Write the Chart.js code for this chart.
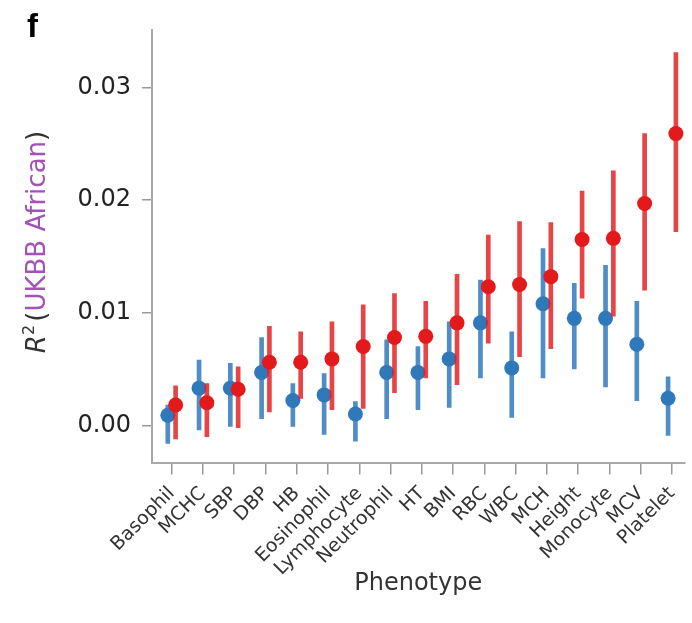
<!DOCTYPE html>
<html>
<head>
<meta charset="utf-8">
<script src="https://cdn.jsdelivr.net/npm/chart.js@4"></script>
<style>
  html, body { margin: 0; padding: 0; background: #fff; }
  #wrap { width: 692px; height: 623px; }
</style>
</head>
<body>
<div id="wrap"><canvas id="chart" width="692" height="623"></canvas></div>
<script>
const phenotypes = ["Basophil", "MCHC", "SBP", "DBP", "HB", "Eosinophil", "Lymphocyte", "Neutrophil",
  "HT", "BMI", "RBC", "WBC", "MCH", "Height", "Monocyte", "MCV", "Platelet"];

// blue series
const blueR2 = [0.0009, 0.0033, 0.0033, 0.0047, 0.0022, 0.0027, 0.0010, 0.0047, 0.0047, 0.0059, 0.0091, 0.0051, 0.0108, 0.0095, 0.0095, 0.0072, 0.0024];
const blueLow = [-0.0016, -0.0004, -0.0001, 0.0006, -0.0001, -0.0008, -0.0014, 0.0006, 0.0014, 0.0016, 0.0042, 0.0007, 0.0042, 0.0050, 0.0034, 0.0022, -0.0009];
const blueHigh = [0.0018, 0.0058, 0.0055, 0.0078, 0.0037, 0.0046, 0.0021, 0.0076, 0.0070, 0.0092, 0.0129, 0.0083, 0.0157, 0.0126, 0.0142, 0.0110, 0.0043];

// red series
const redR2 = [0.0018, 0.0020, 0.0032, 0.0056, 0.0056, 0.0059, 0.0070, 0.0078, 0.0079, 0.0091, 0.0123, 0.0125, 0.0132, 0.0165, 0.0166, 0.0197, 0.0259];
const redLow = [-0.0012, -0.0010, -0.0002, 0.0012, 0.0024, 0.0014, 0.0015, 0.0029, 0.0042, 0.0036, 0.0073, 0.0061, 0.0068, 0.0113, 0.0097, 0.0120, 0.0172];
const redHigh = [0.0035, 0.0037, 0.0052, 0.0088, 0.0083, 0.0092, 0.0107, 0.0117, 0.0110, 0.0134, 0.0169, 0.0181, 0.0180, 0.0208, 0.0226, 0.0259, 0.0331];

const yTicks = [0, 0.01, 0.02, 0.03];

const BLUE = "#2f79bb";
const RED = "#e31a1c";
const dx = 0.125; // dodge between the two series

const pts = (vals, off) => vals.map((v, i) => ({ x: i + off, y: v }));
const bars = (lo, hi, off) => lo.map((v, i) => ({ x: i + off, y: [v, hi[i]] }));

const extras = {
  id: "extras",
  afterDraw(chart) {
    const ctx = chart.ctx;
    ctx.save();
    ctx.fillStyle = "#000";
    ctx.font = 'bold 33px "Liberation Sans"';
    ctx.textBaseline = "alphabetic";
    ctx.fillText("f", 27, 37);

    const s = 26;
    const parts = [
      { t: "R", font: `italic ${s}px "DejaVu Sans"`, color: "#333", dy: 0 },
      { t: "2", font: `${Math.round(s * 0.6)}px "DejaVu Sans"`, color: "#333", dy: -s * 0.42 },
      { t: " ", font: `${Math.round(s * 0.4)}px "DejaVu Sans"`, color: "#333", dy: 0 },
      { t: "(", font: `${s}px "DejaVu Sans"`, color: "#333", dy: 0 },
      { t: "UKBB African", font: `${s}px "DejaVu Sans"`, color: "#a352b8", dy: 0 },
      { t: ")", font: `${s}px "DejaVu Sans"`, color: "#333", dy: 0 },
    ];
    let total = 0;
    parts.forEach(p => { ctx.font = p.font; p.w = ctx.measureText(p.t).width; total += p.w; });
    ctx.translate(45, 242);
    ctx.rotate(-Math.PI / 2);
    let x = -total / 2;
    parts.forEach(p => {
      ctx.font = p.font;
      ctx.fillStyle = p.color;
      ctx.fillText(p.t, x, p.dy);
      x += p.w;
    });
    ctx.restore();
  }
};

new Chart(document.getElementById("chart"), {
  type: "bar",
  data: {
    datasets: [
      { type: "bar", data: bars(blueLow, blueHigh, -dx), backgroundColor: "rgba(47,121,187,0.85)",
        barThickness: 4, grouped: false, order: 4 },
      { type: "scatter", data: pts(blueR2, -dx), backgroundColor: BLUE, borderWidth: 0,
        pointRadius: 7.5, order: 3 },
      { type: "bar", data: bars(redLow, redHigh, dx), backgroundColor: "rgba(227,26,28,0.82)",
        barThickness: 4, grouped: false, order: 2 },
      { type: "scatter", data: pts(redR2, dx), backgroundColor: RED, borderWidth: 0,
        pointRadius: 7.5, order: 1 },
    ]
  },
  options: {
    responsive: false,
    animation: false,
    layout: { padding: { top: 30, left: 0, right: 0, bottom: 0 } },
    plugins: { legend: { display: false }, tooltip: { enabled: false } },
    scales: {
      x: {
        type: "linear",
        min: -0.63,
        max: 16.4,
        offset: false,
        afterBuildTicks: s => { s.ticks = phenotypes.map((_, i) => ({ value: i })); },
        afterFit: s => { s.height = 160.5; s.paddingLeft = 0; s.paddingRight = 0; },
        grid: { drawOnChartArea: false, offset: false, color: "#999", lineWidth: 1.5, tickLength: 12 },
        border: { color: "#a8a8a8", width: 2 },
        ticks: {
          autoSkip: false,
          minRotation: 45,
          maxRotation: 45,
          padding: 8,
          color: "#333",
          font: { family: "DejaVu Sans", size: 19 },
          callback: v => phenotypes[v]
        },
        title: {
          display: true,
          text: "Phenotype",
          color: "#333",
          font: { family: "DejaVu Sans", size: 24 },
          padding: { top: 0, bottom: 25 }
        }
      },
      y: {
        min: -0.0033,
        max: 0.0351,
        afterBuildTicks: s => { s.ticks = yTicks.map(v => ({ value: v })); },
        afterFit: s => { s.width = 152; s.paddingTop = 0; s.paddingBottom = 0; },
        grid: { drawOnChartArea: false, color: "#999", lineWidth: 1.5, tickLength: 10 },
        border: { color: "#a8a8a8", width: 2 },
        ticks: {
          padding: 11,
          color: "#222",
          font: { family: "DejaVu Sans", size: 24 },
          callback: v => v.toFixed(2)
        }
      }
    }
  },
  plugins: [extras]
});
</script>
</body>
</html>
